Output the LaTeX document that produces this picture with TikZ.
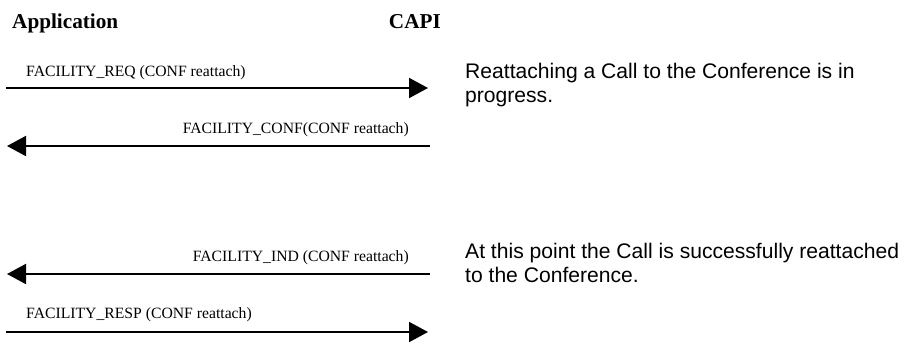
\documentclass[tikz,border=0pt]{standalone}
\usepackage{fontspec}
\setmainfont{Liberation Serif}
\newfontfamily\arialfont{Liberation Sans}
\usetikzlibrary{arrows.meta}
\begin{document}
\begin{tikzpicture}[x=1pt,y=-1pt,
  hdr/.style={font=\fontsize{21.2}{24}\selectfont\bfseries, inner sep=0pt},
  lbl/.style={font=\fontsize{15.7}{18}\selectfont, inner sep=0pt},
  note/.style={font=\arialfont\fontsize{21.1}{24}\selectfont, inner sep=0pt, align=left, anchor=base west},
  msg/.style={line width=2pt, -{Triangle[length=19pt,width=20pt]}}]
\useasboundingbox[fill=white] (0,0) rectangle (912,343);
% headers
\node[hdr, anchor=base west] (app) at (12,28) {Application};
\node[hdr, anchor=base east] (capi) at (441,28) {CAPI};
% message endpoints
\coordinate (a1) at (6,88);    \coordinate (c1) at (428,88);
\coordinate (c2) at (430,146); \coordinate (a2) at (7,146);
\coordinate (c3) at (430,274); \coordinate (a3) at (7,274);
\coordinate (a4) at (6,332);   \coordinate (c4) at (428,332);
% messages
\draw[msg] (a1) -- (c1);
\node[lbl, anchor=base west] (m1) at (26,76) {FACILITY\_REQ (CONF reattach)};
\draw[msg] (c2) -- (a2);
\node[lbl, anchor=base east] (m2) at (409,133) {FACILITY\_CONF(CONF reattach)};
\draw[msg] (c3) -- (a3);
\node[lbl, anchor=base east] (m3) at (409,261) {FACILITY\_IND (CONF reattach)};
\draw[msg] (a4) -- (c4);
\node[lbl, anchor=base west] (m4) at (26,318) {FACILITY\_RESP (CONF reattach)};
% notes
\node[note] (n1) at (465,102) {Reattaching a Call to the Conference is in\\progress.};
\node[note] (n2) at (465,282) {At this point the Call is successfully reattached\\to the Conference.};
\end{tikzpicture}
\end{document}
